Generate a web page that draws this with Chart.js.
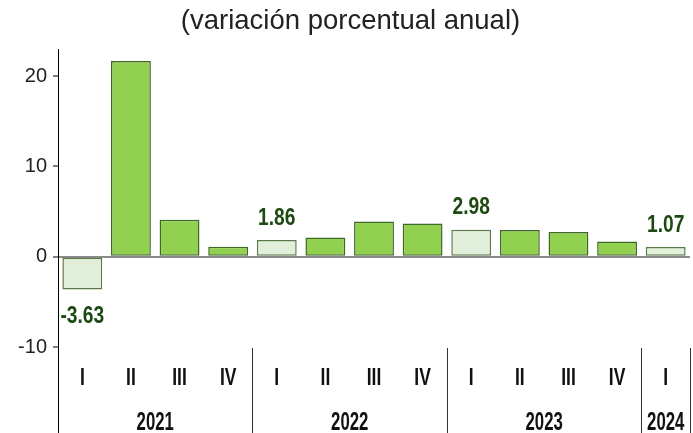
<!DOCTYPE html>
<html>
<head>
<meta charset="utf-8">
<script src="https://cdn.jsdelivr.net/npm/chart.js@4.4.1/dist/chart.umd.min.js"></script>
<style>
  html, body { margin: 0; padding: 0; background: #fff; }
  #wrap { width: 693px; height: 433px; }
</style>
</head>
<body>
<div id="wrap"><canvas id="chart"></canvas></div>
<script>
// datos del grafico
const quarters = ['I', 'II', 'III', 'IV', 'I', 'II', 'III', 'IV', 'I', 'II', 'III', 'IV', 'I'];
const values = [-3.63, 21.66, 4.1, 1.1, 1.86, 2.13, 3.9, 3.68, 2.98, 2.95, 2.73, 1.69, 1.07];
const years = ['2021', '2022', '2023', '2024'];
const yearSpan = [4, 4, 4, 1];
const yTicks = [-10, 0, 10, 20];

const sans = '"Liberation Sans", Arial, sans-serif';

// primer trimestre de cada año en verde claro
const fills = quarters.map(q => q === 'I' ? '#e2efda' : '#92d050');
const borders = quarters.map(q => q === 'I' ? '#5a7a4a' : '#3f6828');

// texto estrecho (la fuente original es condensada)
function narrowText(c, text, x, y, size, sx) {
    c.save();
    c.translate(x, y);
    c.scale(sx, 1);
    c.font = 'bold ' + size + 'px ' + sans;
    c.textAlign = 'center';
    c.textBaseline = 'middle';
    c.fillText(text, 0, 0);
    c.restore();
}

// etiquetas de valor sobre los trimestres I
const valueLabels = {
    id: 'valueLabels',
    afterDatasetsDraw(chart) {
        const c = chart.ctx;
        const meta = chart.getDatasetMeta(0);
        c.save();
        c.fillStyle = '#1d4a12';
        meta.data.forEach((bar, i) => {
            if (quarters[i] !== 'I') return;
            const v = values[i];
            const y = v < 0 ? bar.y + 27 : bar.y - 22;
            narrowText(c, v.toFixed(2), bar.x, y, 24, 0.8);
        });
        c.restore();
    }
};

// eje de categorias en dos niveles (trimestre / año)
const yearAxis = {
    id: 'yearAxis',
    afterDraw(chart) {
        const c = chart.ctx;
        const x = chart.scales.x;
        const area = chart.chartArea;
        const bottom = chart.height;
        c.save();
        c.strokeStyle = '#000';
        c.lineWidth = 1;
        // prolongar el eje y hasta abajo
        c.beginPath();
        c.moveTo(area.left + 0.5, area.bottom);
        c.lineTo(area.left + 0.5, bottom);
        c.stroke();
        c.fillStyle = '#111';
        quarters.forEach((q, i) => {
            narrowText(c, q, x.getPixelForValue(i), 379, 23, 0.76);
        });
        let start = 0;
        years.forEach((yr, k) => {
            const end = start + yearSpan[k] - 1;
            const cx = (x.getPixelForValue(start) + x.getPixelForValue(end)) / 2;
            narrowText(c, yr, cx, 423, 25, 0.67);
            // separador al final del grupo
            let sx;
            if (end + 1 < quarters.length) {
                sx = (x.getPixelForValue(end) + x.getPixelForValue(end + 1)) / 2;
            } else {
                sx = area.right;
            }
            sx = Math.round(sx) + 0.5;
            c.strokeStyle = '#333';
            c.beginPath();
            c.moveTo(sx, area.bottom + 1);
            c.lineTo(sx, bottom);
            c.stroke();
            start = end + 1;
        });
        c.restore();
    }
};

const ctx = document.getElementById('chart').getContext('2d');
const chart = new Chart(ctx, {
    type: 'bar',
    data: {
        labels: quarters,
        datasets: [{
            data: values,
            backgroundColor: fills,
            borderColor: borders,
            borderWidth: 1.5,
            borderSkipped: false,
            barPercentage: 0.82,
            categoryPercentage: 1
        }]
    },
    options: {
        responsive: true,
        maintainAspectRatio: false,
        animation: false,
        layout: { padding: { left: 11, right: 3, top: 0, bottom: 0 } },
        plugins: {
            legend: { display: false },
            tooltip: { enabled: false },
            title: {
                display: true,
                text: '(variación porcentual anual)',
                color: '#222',
                font: { family: sans, size: 27.5, weight: 'normal', lineHeight: 1.2 },
                padding: { top: 5, bottom: 11 }
            }
        },
        scales: {
            x: {
                grid: { display: false, drawTicks: false },
                border: { display: false },
                ticks: { display: false },
                afterFit(axis) { axis.height = 86; }
            },
            y: {
                min: -10,
                max: 23,
                afterBuildTicks(axis) { axis.ticks = yTicks.map(v => ({ value: v })); },
                grid: {
                    color: c => c.tick && c.tick.value === 0 ? '#8a8a8a' : 'rgba(0,0,0,0)',
                    lineWidth: c => c.tick && c.tick.value === 0 ? 2 : 0,
                    tickColor: '#000',
                    tickLength: 5,
                    tickWidth: 1
                },
                border: { display: true, color: '#000', width: 1 },
                ticks: {
                    color: '#222',
                    padding: 6,
                    font: { family: sans, size: 20 }
                },
                afterFit(axis) { axis.width = 47; }
            }
        }
    },
    plugins: [valueLabels, yearAxis]
});
</script>
</body>
</html>
